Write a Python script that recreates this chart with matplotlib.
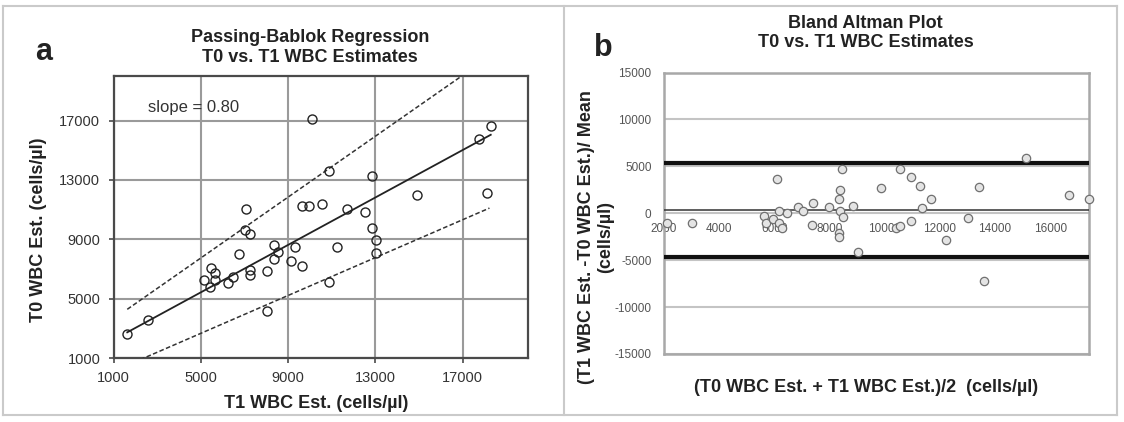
import matplotlib
matplotlib.use('Agg')
import matplotlib.pyplot as plt
from matplotlib.lines import Line2D

plt.rcParams['font.family'] = ['Liberation Sans', 'DejaVu Sans']

# ---------------- Panel a: Passing-Bablok ----------------
t1_est = [1630, 2570, 8020, 5150, 5470, 5650, 5650, 5420, 6260, 6460,
          6740, 7060, 7030, 7250, 7250, 7250, 8020, 8340, 8340, 8550,
          9320, 9130, 9620, 10110, 10890, 9620, 9960, 10570, 10890, 11230,
          11690, 12520, 12860, 12860, 13010, 13010, 14920, 17760, 18280, 18130]
t0_est = [2590, 3590, 4170, 6230, 7080, 6720, 6230, 5780, 6070, 6450,
          8020, 11030, 9620, 9360, 6900, 6560, 6850, 8640, 7680, 8170,
          8460, 7520, 7170, 17090, 13600, 11210, 11210, 11370, 6110, 8460,
          11030, 10850, 13270, 9760, 8960, 8090, 11970, 15730, 16620, 12150]
reg_x = [1630, 18280]
reg_y = [2730, 16040]
upper_x = [1630, 16950]
upper_y = [4280, 20000]
lower_x = [1630, 18220]
lower_y = [510, 11100]
slope_text = 'slope = 0.80'
a_ticks = [1000, 5000, 9000, 13000, 17000]

# ---------------- Panel b: Bland Altman ----------------
ba_mean = [2100, 3030, 6080, 5620, 5700, 5950, 6180, 6280, 6160, 6450,
           7350, 6860, 7040, 7410, 7990, 8370, 8490, 8340, 8340, 8370,
           8340, 8850, 8470, 9040, 9850, 10400, 10560, 10940, 10570, 10940,
           11270, 11670, 11350, 12240, 13020, 13420, 13590, 15110, 16700, 17420]
ba_diff = [-1000, -1010, 3690, -300, -1080, -580, -1070, -1600, 190, 0,
           -1260, 630, 270, 1060, 630, 230, -370, -2080, -2570, 2470,
           1510, 770, 4680, -4170, 2650, -1600, -1350, -800, 4710, 3890,
           2930, 1510, 590, -2860, -540, 2760, -7190, 5850, 1940, 1480]
bias = 320
loa_upper = 5330
loa_lower = -4690
b_xticks = [2000, 4000, 6000, 8000, 10000, 12000, 14000, 16000]
b_yticks = [-15000, -10000, -5000, 0, 5000, 10000, 15000]

W, H = 1124, 422
fig = plt.figure(figsize=(W / 100, H / 100), dpi=100)

def fx(px):
    return px / W

def fy(py):
    return 1 - py / H

# ---- panel a axes ----
axa = fig.add_axes([fx(113.5), fy(358), fx(528.3) - fx(113.5), fy(76) - fy(358)])
axa.set_xlim(1000, 20000)
axa.set_ylim(1000, 20000)
axa.set_xticks(a_ticks)
axa.set_yticks(a_ticks)
axa.grid(True, color='#9a9a9a', lw=1.5)
axa.set_axisbelow(True)
for s in axa.spines.values():
    s.set_color('#4a4a4a')
    s.set_linewidth(1.6)
axa.tick_params(direction='out', length=3.5, width=1.2, color='#4a4a4a',
                labelsize=10.5, labelcolor='#333333', pad=6)
axa.plot(reg_x, reg_y, color='#222222', lw=1.3, zorder=3)
axa.plot(upper_x, upper_y, color='#333333', lw=1.1, ls=(0, (3, 1.6)), zorder=3)
axa.plot(lower_x, lower_y, color='#333333', lw=1.1, ls=(0, (3, 1.6)), zorder=3)
axa.plot(t1_est, t0_est, 'o', ms=6.5, mfc='none', mec='#222222', mew=1.0, zorder=4)
axa.text(2580, 17890, slope_text, fontsize=12, color='#333333', va='center', ha='left')

fig.text(fx(310), fy(47.5), 'Passing-Bablok Regression\nT0 vs. T1 WBC Estimates',
         ha='center', va='center', fontsize=13, fontweight='bold', color='#222222',
         linespacing=1.2)
fig.text(fx(316), fy(403.5), 'T1 WBC Est. (cells/µl)', ha='center', va='center',
         fontsize=13, fontweight='bold', color='#222222')
fig.text(fx(38.4), fy(230), 'T0 WBC Est. (cells/µl)', ha='center', va='center',
         rotation=90, fontsize=13, fontweight='bold', color='#222222')
fig.text(fx(43.7), fy(51.7), 'a', ha='center', va='center', fontsize=22,
         fontweight='bold', color='#222222')

# ---- panel b axes ----
axb = fig.add_axes([fx(664), fy(354), fx(1089.3) - fx(664), fy(72.5) - fy(354)])
axb.set_xlim(2000, 17420)
axb.set_ylim(-15000, 15000)
axb.set_yticks(b_yticks)
axb.set_yticklabels([str(v) for v in b_yticks])
axb.set_xticks([])
axb.yaxis.grid(True, color='#c4c4c4', lw=1.5)
axb.set_axisbelow(True)
for s in axb.spines.values():
    s.set_color('#a8a8a8')
    s.set_linewidth(1.8)
axb.tick_params(axis='y', length=0, labelsize=8.5, labelcolor='#555555', pad=9)
axb.axhline(loa_upper, color='#111111', lw=3.0, zorder=3)
axb.axhline(loa_lower, color='#111111', lw=3.0, zorder=3)
axb.axhline(bias, color='#333333', lw=1.1, zorder=3)
axb.plot(ba_mean, ba_diff, 'o', ms=6, mfc='#e4e4e4', mec='#707070', mew=0.9,
         zorder=4, clip_on=False)

sec = axb.secondary_xaxis(0, transform=axb.transData)
sec.set_alignment('bottom')
sec.set_xticks(b_xticks)
sec.set_xticklabels([str(v) for v in b_xticks])
sec.tick_params(length=0, labelsize=8.5, labelcolor='#555555', pad=7)
for s in sec.spines.values():
    s.set_visible(False)

fig.text(fx(865.5), fy(33), 'Bland Altman Plot\nT0 vs. T1 WBC Estimates',
         ha='center', va='center', fontsize=13, fontweight='bold', color='#222222',
         linespacing=1.2)
fig.text(fx(866), fy(387.5), '(T0 WBC Est. + T1 WBC Est.)/2  (cells/µl)',
         ha='center', va='center', fontsize=13, fontweight='bold', color='#222222')
fig.text(fx(595.8), fy(236.7), '(T1 WBC Est. -T0 WBC Est.)/ Mean\n(cells/µl)',
         ha='center', va='center', rotation=90, fontsize=13, fontweight='bold',
         color='#222222', linespacing=1.15)
fig.text(fx(603), fy(48.5), 'b', ha='center', va='center', fontsize=22,
         fontweight='bold', color='#222222')

# ---- outer frame ----
frame_kw = dict(transform=fig.transFigure, color='#cacaca', lw=1.5)
fig.add_artist(Line2D([fx(3), fx(1117)], [fy(6), fy(6)], **frame_kw))
fig.add_artist(Line2D([fx(3), fx(1117)], [fy(415), fy(415)], **frame_kw))
fig.add_artist(Line2D([fx(3), fx(3)], [fy(6), fy(415)], **frame_kw))
fig.add_artist(Line2D([fx(1117), fx(1117)], [fy(6), fy(415)], **frame_kw))
fig.add_artist(Line2D([fx(564), fx(564)], [fy(6), fy(415)], **frame_kw))

fig.savefig('out.png', dpi=100)
